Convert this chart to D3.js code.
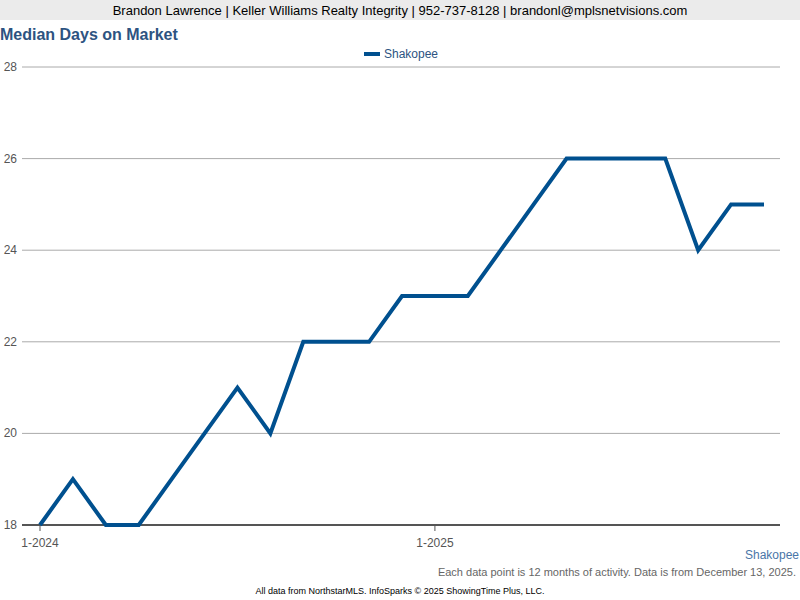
<html>
<head>
<script src="https://d3js.org/d3.v7.min.js"></script>
<style>body{margin:0;font-family:Arial,"Liberation Sans",sans-serif;}</style>
</head>
<body>
<svg width="800" height="600"></svg>
<script>
var months = ["1-2024","2-2024","3-2024","4-2024","5-2024","6-2024","7-2024","8-2024","9-2024","10-2024","11-2024","12-2024",
              "1-2025","2-2025","3-2025","4-2025","5-2025","6-2025","7-2025","8-2025","9-2025","10-2025","11-2025"];
var shakopee = [18,19,18,18,19,20,21,20,22,22,22,23,23,23,24,25,26,26,26,26,24,25,25];
var yTicks = [18,20,22,24,26,28];
var xTickLabels = ["1-2024","1-2025"];

var svg = d3.select("svg");
var font = "Arial, 'Liberation Sans', sans-serif";
var blue = "#00508f";

svg.append("rect").attr("width",800).attr("height",20).attr("fill","#ebebeb");
svg.append("text").attr("x",400).attr("y",15).attr("text-anchor","middle")
  .style("font-family",font).style("font-size","13px").attr("fill","#000")
  .text("Brandon Lawrence | Keller Williams Realty Integrity | 952-737-8128 | brandonl@mplsnetvisions.com");
svg.append("text").attr("x",0).attr("y",40).style("font-family",font).style("font-size","16px")
  .style("font-weight","bold").attr("fill","#2d5381").text("Median Days on Market");

// legend
svg.append("line").attr("x1",364).attr("x2",380).attr("y1",54).attr("y2",54).attr("stroke",blue).attr("stroke-width",4);
svg.append("text").attr("x",384).attr("y",58).style("font-family",font).style("font-size","12px").attr("fill","#2d5381").text("Shakopee");

var x = d3.scalePoint().domain(months).range([40,764]);
var y = d3.scaleLinear().domain([18,28]).range([525,67]);

var g = svg.append("g");
g.selectAll(".grid").data(yTicks).enter().append("line")
  .attr("x1",22).attr("x2",780).attr("y1",function(d){return y(d);}).attr("y2",function(d){return y(d);})
  .attr("stroke","#aaa").attr("stroke-width",1);
g.selectAll(".yl").data(yTicks).enter().append("text")
  .attr("x",17).attr("y",function(d){return y(d)+4;}).attr("text-anchor","end")
  .style("font-family",font).style("font-size","12px").attr("fill","#555").text(function(d){return d;});
g.append("line").attr("x1",22).attr("x2",780).attr("y1",y(18)).attr("y2",y(18)).attr("stroke","#555").attr("stroke-width",2);
g.selectAll(".xt").data(xTickLabels).enter().append("line")
  .attr("x1",function(d){return x(d);}).attr("x2",function(d){return x(d);})
  .attr("y1",y(18)).attr("y2",y(18)+6).attr("stroke","#555");
g.selectAll(".xl").data(xTickLabels).enter().append("text")
  .attr("x",function(d){return x(d);}).attr("y",y(18)+22).attr("text-anchor","middle")
  .style("font-family",font).style("font-size","12px").attr("fill","#555").text(function(d){return d;});

var line = d3.line().x(function(d,i){return x(months[i]);}).y(function(d){return y(d);});
g.append("path").datum(shakopee).attr("d",line).attr("fill","none").attr("stroke",blue)
  .attr("stroke-width",4).attr("stroke-linejoin","miter");

svg.append("text").attr("x",799).attr("y",559).attr("text-anchor","end").style("font-family",font)
  .style("font-size","12px").attr("fill","#4a76a8").text("Shakopee");
svg.append("text").attr("x",796).attr("y",576).attr("text-anchor","end").style("font-family",font)
  .style("font-size","11px").attr("fill","#666").text("Each data point is 12 months of activity. Data is from December 13, 2025.");
svg.append("text").attr("x",400).attr("y",594).attr("text-anchor","middle").style("font-family",font)
  .style("font-size","9px").attr("fill","#000").text("All data from NorthstarMLS. InfoSparks © 2025 ShowingTime Plus, LLC.");
</script>
</body>
</html>
